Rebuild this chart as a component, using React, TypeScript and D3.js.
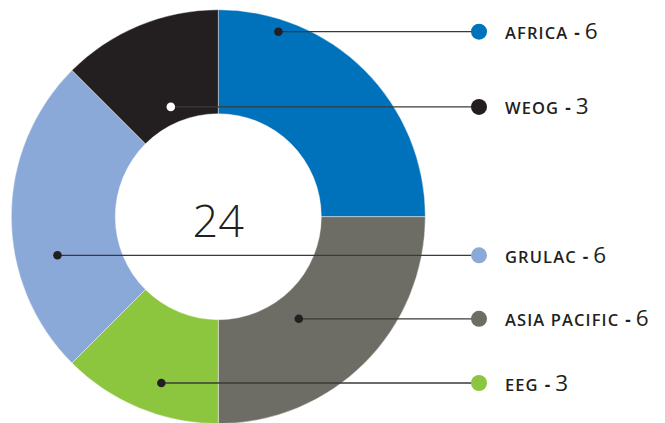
import * as React from "react";
import * as d3 from "d3";

interface Group {
  name: string;
  count: number;
}

const groupNames = ["AFRICA", "ASIA PACIFIC", "EEG", "GRULAC", "WEOG"];
const groupCounts = [6, 6, 3, 6, 3];
const groupColors = ["#0071bb", "#6d6d65", "#8cc63f", "#8aa9d8", "#231f20"];
// order in which the legend rows are stacked, top to bottom
const legendOrder = ["AFRICA", "WEOG", "GRULAC", "ASIA PACIFIC", "EEG"];

// callout anchor inside each slice: fraction across the slice angle, fraction across the ring
const calloutAnchor: Record<string, [number, number]> = {
  AFRICA: [0.2, 0.88],
  "ASIA PACIFIC": [0.575, 0.26],
  EEG: [0.42, 0.7],
  GRULAC: [0.35, 0.6],
  WEOG: [0.48, 0.16],
};

const width = 665;
const height = 423;
const cx = 218.3;
const cy = 216.7;
const outerR = 207;
const innerR = 103;
const legendDotX = 479;
const legendTextX = 505;
const ink = "#231f20";

function donut(svgEl: SVGSVGElement) {
  const data: Group[] = groupNames.map((name, i) => ({ name, count: groupCounts[i] }));
  const color = d3.scaleOrdinal<string, string>().domain(groupNames).range(groupColors);

  const svg = d3.select(svgEl);
  svg.selectAll("*").remove();
  svg.attr("width", width).attr("height", height);

  const pie = d3
    .pie<Group>()
    .sort(null)
    .value((d) => d.count);
  const arcs = pie(data);

  const arc = d3.arc<d3.PieArcDatum<Group>>().innerRadius(innerR).outerRadius(outerR);

  const g = svg.append("g").attr("transform", `translate(${cx},${cy})`);

  g.selectAll("path.slice")
    .data(arcs)
    .enter()
    .append("path")
    .attr("class", "slice")
    .attr("d", arc)
    .attr("fill", (d) => color(d.data.name))
    .attr("stroke", "#fff")
    .attr("stroke-width", 0.4);

  const total = d3.sum(data, (d) => d.count);
  g.append("text")
    .attr("x", 0)
    .attr("y", 20)
    .attr("text-anchor", "middle")
    .attr("font-family", '"Open Sans", sans-serif')
    .attr("font-weight", 300)
    .attr("font-size", 45)
    .attr("fill", ink)
    .text(total);

  // anchor points inside slices
  const anchors = arcs.map((a) => {
    const [fa, fr] = calloutAnchor[a.data.name];
    const ang = a.startAngle + (a.endAngle - a.startAngle) * fa;
    const r = innerR + (outerR - innerR) * fr;
    return {
      name: a.data.name,
      count: a.data.count,
      x: cx + r * Math.sin(ang),
      y: cy - r * Math.cos(ang),
    };
  });
  anchors.sort((a, b) => legendOrder.indexOf(a.name) - legendOrder.indexOf(b.name));

  const callouts = svg.append("g");

  callouts
    .selectAll("line")
    .data(anchors)
    .enter()
    .append("line")
    .attr("x1", (d) => d.x)
    .attr("x2", legendDotX)
    .attr("y1", (d) => d.y)
    .attr("y2", (d) => d.y)
    .attr("stroke", "#3a3a3a")
    .attr("stroke-width", 1.3);

  callouts
    .selectAll("circle.anchor")
    .data(anchors)
    .enter()
    .append("circle")
    .attr("class", "anchor")
    .attr("cx", (d) => d.x)
    .attr("cy", (d) => d.y)
    .attr("r", 4.3)
    .attr("fill", (d) => (d.name === "WEOG" ? "#fff" : ink));

  callouts
    .selectAll("circle.key")
    .data(anchors)
    .enter()
    .append("circle")
    .attr("class", "key")
    .attr("cx", legendDotX)
    .attr("cy", (d) => d.y)
    .attr("r", 8)
    .attr("fill", (d) => color(d.name));

  const labels = callouts
    .selectAll("text")
    .data(anchors)
    .enter()
    .append("text")
    .attr("x", legendTextX)
    .attr("y", (d) => d.y + 7.5)
    .attr("font-family", '"Open Sans", sans-serif')
    .attr("fill", ink);

  labels
    .append("tspan")
    .attr("font-size", 16.5)
    .attr("font-weight", 600)
    .attr("letter-spacing", 1.1)
    .text((d) => d.name);

  labels
    .append("tspan")
    .attr("dx", 6)
    .attr("font-size", 17)
    .attr("font-weight", 700)
    .text("-");

  labels
    .append("tspan")
    .attr("dx", 5)
    .attr("font-size", 22.5)
    .attr("font-weight", 400)
    .text((d) => d.count);
}

export default function App() {
  const ref = React.useRef<SVGSVGElement>(null);
  React.useEffect(() => {
    if (ref.current) donut(ref.current);
  }, []);
  return (
    <div style={{ position: "fixed", left: 0, top: 0, background: "#fff" }}>
      <svg ref={ref} style={{ display: "block" }} />
    </div>
  );
}
